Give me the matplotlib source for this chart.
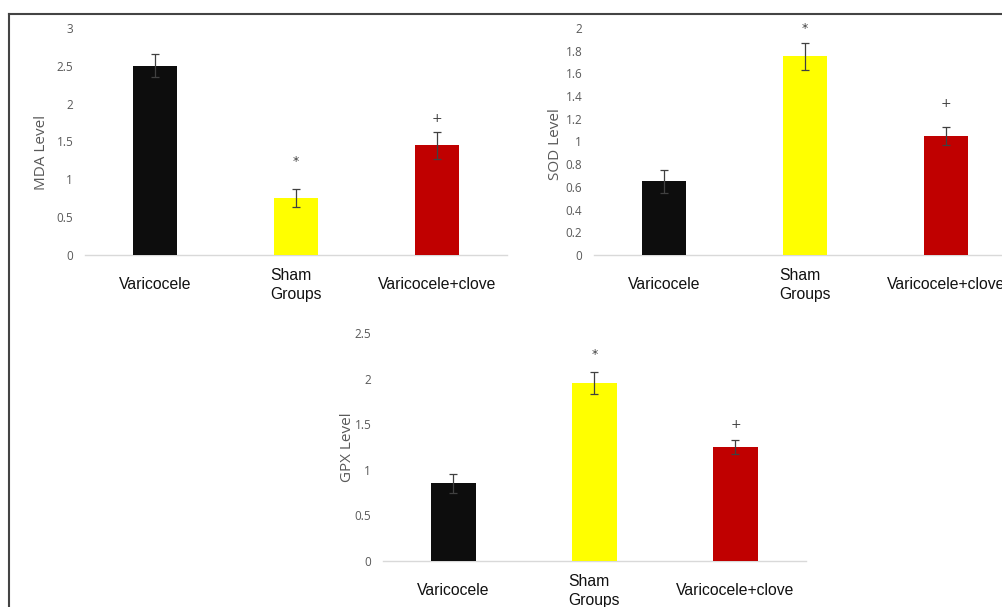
import matplotlib
matplotlib.use("Agg")
import matplotlib.pyplot as plt
from matplotlib.lines import Line2D

# ---- data ----
categories = ["Varicocele", "Sham\nGroups", "Varicocele+clove"]
bar_colors = ["#0d0d0d", "#ffff00", "#c00000"]

mda_values = [2.5, 0.75, 1.45]
mda_errors = [0.15, 0.12, 0.18]
mda_marks = ["", "*", "+"]

sod_values = [0.65, 1.75, 1.05]
sod_errors = [0.10, 0.12, 0.08]
sod_marks = ["", "*", "+"]

gpx_values = [0.85, 1.95, 1.25]
gpx_errors = [0.10, 0.12, 0.08]
gpx_marks = ["", "*", "+"]

mda_ticks = [0, 0.5, 1, 1.5, 2, 2.5, 3]
sod_ticks = [0, 0.2, 0.4, 0.6, 0.8, 1, 1.2, 1.4, 1.6, 1.8, 2]
gpx_ticks = [0, 0.5, 1, 1.5, 2, 2.5]

W, H = 1003, 607
fig = plt.figure(figsize=(W / 100, H / 100), dpi=100)
fig.patch.set_facecolor("white")

GRAY = "#595959"


def px_axes(x0, x1, ytop, ybot):
    return [x0 / W, 1 - ybot / H, (x1 - x0) / W, (ybot - ytop) / H]


def panel(rect, values, errors, marks, ticks, ylabel, lab_x, lab_y, mark_offsets):
    ax = fig.add_axes(rect)
    x = list(range(len(categories)))
    ax.bar(x, values, width=0.315, color=bar_colors, zorder=2)
    ax.errorbar(x, values, yerr=errors, fmt="none", ecolor="#404040",
                elinewidth=0.9, capsize=3, capthick=0.9, zorder=3)
    for xi, v, e, m, off in zip(x, values, errors, marks, mark_offsets):
        if m:
            ax.annotate(m, (xi, v + e), xytext=(0, off), textcoords="offset pixels",
                        ha="center", va="center", fontsize=9, color="#404040")
    ax.set_xlim(-0.5, 2.5)
    ax.set_ylim(ticks[0], ticks[-1])
    ax.set_yticks(ticks)
    ax.set_yticklabels([f"{t:g}" for t in ticks], fontsize=8.5, color=GRAY,
                       family="Open Sans")
    ax.set_xticks(x)
    ax.set_xticklabels(categories, fontsize=11.3, family="Liberation Sans",
                       color="#111111", va="center", multialignment="left",
                       linespacing=1.3)
    ax.tick_params(axis="x", length=0, pad=21.5)
    ax.tick_params(axis="y", length=0, pad=8.5)
    for s in ["top", "right", "left"]:
        ax.spines[s].set_visible(False)
    ax.spines["bottom"].set_color("#d9d9d9")
    ax.spines["bottom"].set_linewidth(1.0)
    ax.spines["bottom"].set_zorder(1)
    ax.set_ylabel(ylabel, fontsize=11, color=GRAY, family="Open Sans")
    ax.yaxis.set_label_coords(lab_x, lab_y)
    ax.patch.set_alpha(0)
    return ax


panel(px_axes(85, 507, 28, 255), mda_values, mda_errors, mda_marks, mda_ticks,
      "MDA Level", -0.085, 0.45, [0, 28, 13])
panel(px_axes(594, 1016, 28, 255), sod_values, sod_errors, sod_marks, sod_ticks,
      "SOD Level", -0.073, 0.49, [0, 14, 23])
panel(px_axes(383, 806, 333, 561), gpx_values, gpx_errors, gpx_marks, gpx_ticks,
      "GPX Level", -0.066, 0.5, [0, 18, 15])

# outer frame (top and left border)
fig.add_artist(Line2D([9.5 / W, 1.0], [1 - 13.5 / H, 1 - 13.5 / H],
                      transform=fig.transFigure, color="#444444", lw=1.5))
fig.add_artist(Line2D([9.5 / W, 9.5 / W], [0, 1 - 13.5 / H],
                      transform=fig.transFigure, color="#444444", lw=1.5))

fig.savefig("out.png", dpi=100)
